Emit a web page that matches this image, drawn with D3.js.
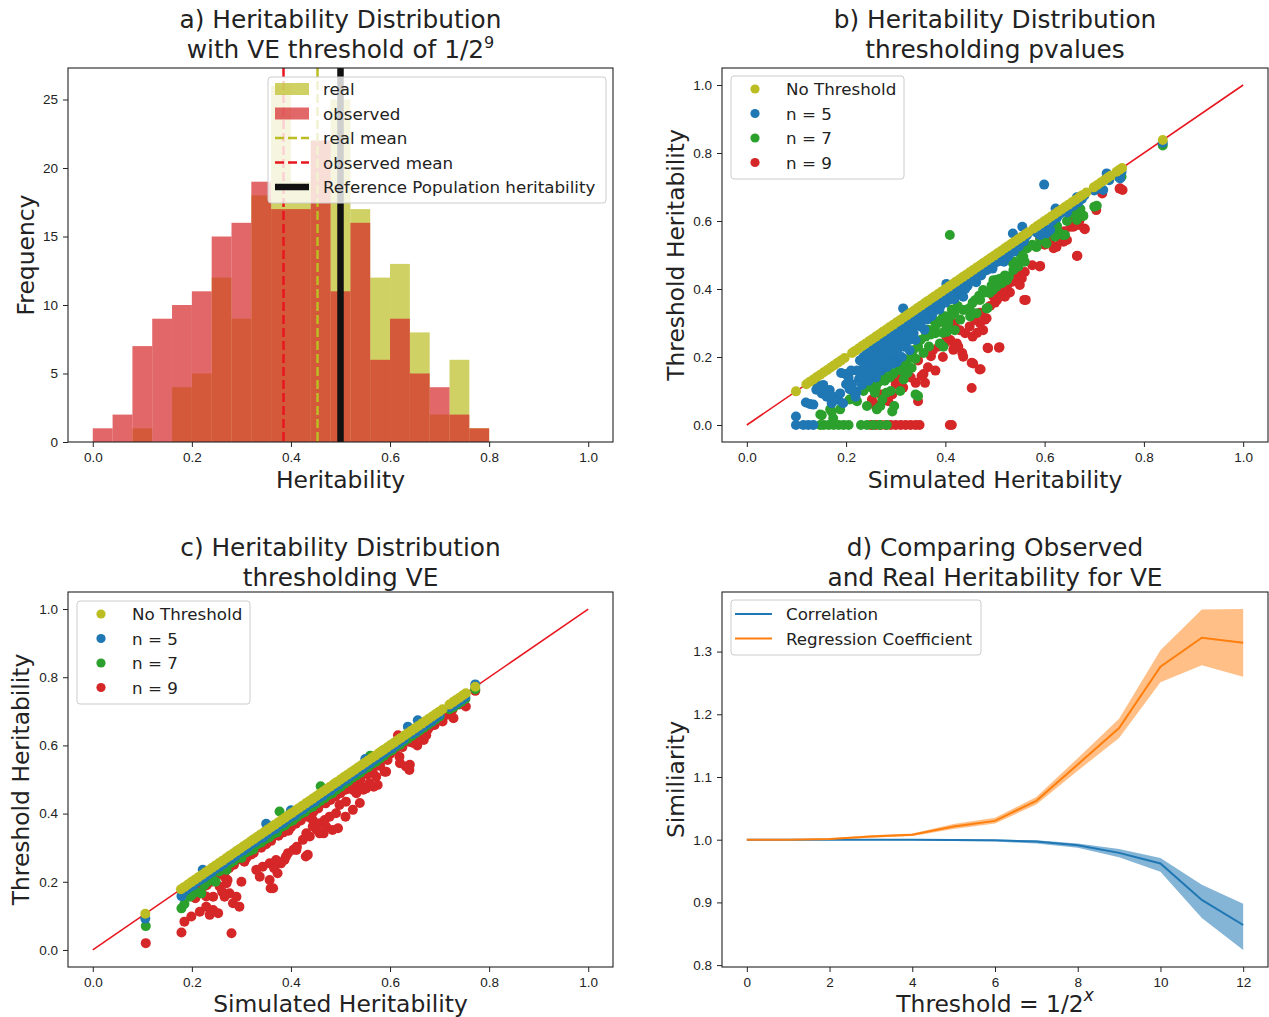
<!DOCTYPE html>
<html>
<head>
<meta charset="utf-8">
<script src="https://cdn.jsdelivr.net/npm/d3@7"></script>
<style>
body { margin: 0; background: #fff; }
svg { font-family: "DejaVu Sans", sans-serif; }
.tick text { font-size: 13.5px; fill: #222; }
.tick line { stroke: #222; }
.title { font-size: 24.8px; fill: #222; text-anchor: middle; }
.label { font-size: 23.4px; fill: #222; text-anchor: middle; }
.legend text { font-size: 16.7px; fill: #222; }
</style>
</head>
<body>
<div id="chart"></div>
<script>
// ---- a) histogram ----
var binStarts = [0.00, 0.04, 0.08, 0.12, 0.16, 0.20, 0.24, 0.28, 0.32, 0.36,
                 0.40, 0.44, 0.48, 0.52, 0.56, 0.60, 0.64, 0.68, 0.72, 0.76];
var realCounts =     [0, 0, 1, 0, 4, 5, 12, 9, 18, 26, 19, 22, 25, 17, 12, 13, 8, 2, 6, 1];
var observedCounts = [1, 2, 7, 9, 10, 11, 15, 16, 19, 17, 17, 22, 11, 16, 6, 9, 5, 4, 2, 1];
var realMean = 0.4536;
var observedMean = 0.385;
var referenceH2 = 0.5;

// ---- b) thresholding pvalues: [simulated, threshold] ----
var pvalNoThreshold = [[0.099,0.099],[0.12,0.12],[0.127,0.127],[0.134,0.134],[0.141,0.141],[0.148,0.148],[0.155,0.155],
  [0.162,0.162],[0.169,0.169],[0.176,0.176],[0.183,0.183],[0.19,0.19],[0.197,0.197],[0.212,0.212],[0.218,0.218],
  [0.225,0.225],[0.232,0.232],[0.239,0.239],[0.246,0.246],[0.253,0.253],[0.26,0.26],[0.267,0.267],[0.274,0.274],
  [0.281,0.281],[0.288,0.288],[0.295,0.295],[0.302,0.302],[0.309,0.309],[0.316,0.316],[0.323,0.323],[0.33,0.33],
  [0.337,0.337],[0.344,0.344],[0.351,0.351],[0.358,0.358],[0.365,0.365],[0.372,0.372],[0.379,0.379],[0.386,0.386],
  [0.393,0.393],[0.4,0.4],[0.407,0.407],[0.414,0.414],[0.421,0.421],[0.428,0.428],[0.435,0.435],[0.442,0.442],
  [0.449,0.449],[0.456,0.456],[0.463,0.463],[0.47,0.47],[0.477,0.477],[0.484,0.484],[0.491,0.491],[0.498,0.498],
  [0.505,0.505],[0.512,0.512],[0.519,0.519],[0.526,0.526],[0.533,0.533],[0.54,0.54],[0.547,0.547],[0.554,0.554],
  [0.561,0.561],[0.567,0.567],[0.578,0.578],[0.585,0.585],[0.592,0.592],[0.599,0.599],[0.606,0.606],[0.613,0.613],
  [0.62,0.62],[0.627,0.627],[0.634,0.634],[0.641,0.641],[0.648,0.648],[0.655,0.655],[0.662,0.662],[0.669,0.669],
  [0.676,0.676],[0.684,0.684],[0.699,0.699],[0.706,0.706],[0.713,0.713],[0.72,0.72],[0.727,0.727],[0.733,0.733],
  [0.745,0.745],[0.751,0.751],[0.756,0.756],[0.838,0.838]];
var pvalN5 = [[0.099,0.0],[0.099,0.025],[0.114,0.0],[0.124,0.0],[0.134,0.0],[0.127,0.062],[0.134,0.06],[0.119,0.066],
  [0.143,0.118],[0.148,0.108],[0.154,0.118],[0.151,0.093],[0.161,0.083],[0.167,0.103],[0.171,0.064],[0.174,0.083],
  [0.184,0.074],[0.188,0.093],[0.194,0.064],[0.19,0.153],[0.198,0.15],[0.14,0.104],
  [0.205,0.14],[0.212,0.12],[0.215,0.1],[0.221,0.098],[0.219,0.083],[0.226,0.135],[0.23,0.16],[0.232,0.118],
  [0.238,0.15],[0.24,0.185],[0.245,0.13],[0.248,0.17],[0.25,0.205],[0.255,0.19],[0.258,0.16],[0.26,0.14],
  [0.262,0.215],[0.265,0.18],[0.268,0.2],[0.27,0.16],[0.272,0.235],[0.275,0.19],[0.278,0.21],[0.28,0.25],
  [0.282,0.17],[0.285,0.22],[0.288,0.195],[0.29,0.26],[0.292,0.235],[0.295,0.21],[0.298,0.27],[0.3,0.245],
  [0.302,0.185],[0.305,0.225],[0.308,0.28],[0.31,0.26],[0.312,0.2],[0.315,0.343],[0.318,0.29],[0.32,0.24],
  [0.322,0.3],[0.325,0.27],[0.328,0.22],[0.33,0.31],[0.335,0.29],[0.338,0.32],[0.34,0.25],[0.345,0.33],
  [0.348,0.3],[0.35,0.34],[0.355,0.31],[0.358,0.28],[0.36,0.345],[0.365,0.33],[0.37,0.35],[0.372,0.32],
  [0.378,0.36],[0.38,0.34],[0.385,0.37],[0.39,0.35],[0.395,0.38],[0.4,0.36],[0.402,0.415],[0.408,0.385],
  [0.41,0.37],[0.415,0.395],[0.42,0.38],[0.425,0.41],[0.428,0.4],[0.432,0.42],[0.436,0.377],[0.44,0.43],
  [0.445,0.41],[0.45,0.44],[0.455,0.43],[0.46,0.45],[0.462,0.42],[0.468,0.455],[0.472,0.44],[0.478,0.465],
  [0.483,0.455],[0.49,0.475],[0.495,0.46],[0.5,0.49],[0.505,0.48],[0.51,0.5],[0.515,0.49],[0.52,0.505],
  [0.525,0.495],[0.53,0.52],[0.536,0.563],[0.54,0.52],[0.545,0.535],[0.55,0.54],[0.555,0.583],[0.56,0.55],
  [0.565,0.56],[0.58,0.57],[0.585,0.565],[0.591,0.559],[0.598,0.585],[0.599,0.707],[0.604,0.564],[0.611,0.574],
  [0.615,0.6],[0.622,0.637],[0.625,0.61],[0.63,0.62],[0.638,0.63],[0.645,0.625],[0.65,0.64],[0.658,0.645],
  [0.665,0.67],[0.668,0.655],[0.675,0.665],[0.68,0.675],[0.7,0.69],[0.705,0.695],[0.712,0.696],[0.718,0.691],
  [0.725,0.74],[0.73,0.72],[0.75,0.74],[0.752,0.725],[0.755,0.745],[0.838,0.83],
  [0.222,0.16],[0.228,0.19],[0.235,0.2],[0.236,0.17],[0.242,0.21],[0.25,0.15],[0.252,0.225],[0.257,0.2],
  [0.263,0.23],[0.266,0.165],[0.27,0.24],[0.274,0.215],[0.278,0.18],[0.283,0.24],[0.287,0.25],[0.29,0.21],
  [0.294,0.18],[0.297,0.25],[0.303,0.26],[0.306,0.24],[0.313,0.27],[0.317,0.23],[0.322,0.28],[0.327,0.25],
  [0.332,0.3],[0.336,0.27],[0.342,0.31],[0.35,0.29],[0.357,0.33],[0.362,0.31],[0.368,0.34],[0.375,0.33],
  [0.382,0.355],[0.388,0.34],[0.398,0.37],[0.41,0.39],[0.418,0.37],[0.43,0.405],[0.44,0.4],[0.452,0.425],
  [0.465,0.44],[0.475,0.45],[0.488,0.46],[0.498,0.475],[0.508,0.49],[0.518,0.48],[0.528,0.5],[0.538,0.51],
  [0.548,0.525],[0.558,0.54],[0.21,0.16],[0.2,0.12],[0.207,0.105],[0.23,0.145],[0.245,0.16]];
var pvalN7 = [[0.148,0.0],[0.155,0.0],[0.165,0.0],[0.175,0.0],[0.185,0.0],[0.195,0.0],[0.205,0.0],[0.23,0.0],
  [0.242,0.0],[0.255,0.0],[0.268,0.0],[0.282,0.0],[0.151,0.029],[0.148,0.031],[0.171,0.039],[0.168,0.046],
  [0.174,0.02],[0.188,0.046],[0.207,0.075],[0.222,0.07],[0.242,0.056],[0.212,0.078],[0.252,0.109],[0.258,0.095],
  [0.262,0.046],[0.269,0.056],[0.273,0.075],[0.262,0.134],[0.273,0.153],[0.281,0.095],[0.285,0.168],[0.29,0.1],
  [0.297,0.056],[0.293,0.04],[0.301,0.192],[0.309,0.1],[0.316,0.134],[0.324,0.153],[0.332,0.168],[0.34,0.09],
  [0.345,0.085],[0.324,0.192],[0.34,0.195],[0.356,0.212],[0.367,0.231],[0.371,0.266],[0.375,0.31],[0.38,0.29],
  [0.389,0.24],[0.396,0.23],[0.395,0.271],[0.396,0.319],[0.402,0.29],[0.403,0.274],[0.406,0.299],[0.409,0.559],
  [0.41,0.319],[0.418,0.329],[0.419,0.279],[0.436,0.338],[0.442,0.339],[0.449,0.344],[0.45,0.319],[0.461,0.368],
  [0.463,0.329],[0.47,0.368],[0.476,0.397],[0.483,0.343],[0.485,0.344],[0.489,0.388],[0.49,0.392],[0.496,0.397],
  [0.497,0.426],[0.503,0.407],[0.504,0.427],[0.514,0.417],[0.524,0.426],[0.528,0.437],[0.536,0.476],[0.537,0.456],
  [0.547,0.466],[0.55,0.505],[0.555,0.49],[0.557,0.495],[0.56,0.48],[0.583,0.524],[0.584,0.524],[0.591,0.544],
  [0.604,0.534],[0.618,0.578],[0.621,0.554],[0.631,0.564],[0.637,0.559],[0.641,0.559],[0.655,0.623],[0.665,0.603],
  [0.668,0.627],[0.677,0.617],[0.678,0.615],[0.7,0.642],[0.705,0.645],[0.705,0.7],[0.75,0.728],[0.752,0.735],
  [0.755,0.73],[0.838,0.822],
  [0.26,0.11],[0.265,0.125],[0.278,0.13],[0.288,0.14],[0.295,0.15],[0.305,0.17],[0.312,0.16],[0.318,0.18],
  [0.33,0.2],[0.335,0.22],[0.345,0.23],[0.35,0.25],[0.36,0.26],[0.365,0.28],[0.38,0.27],[0.385,0.3],
  [0.392,0.31],[0.4,0.32],[0.413,0.34],[0.425,0.35],[0.43,0.31],[0.455,0.36],[0.468,0.38],[0.48,0.39],
  [0.493,0.41],[0.51,0.43],[0.52,0.44],[0.54,0.48],[0.565,0.52],[0.575,0.53],[0.6,0.55],[0.61,0.57],
  [0.625,0.585],[0.645,0.6],[0.66,0.62],[0.672,0.635],[0.218,0.09],[0.235,0.1],[0.245,0.12]];
var pvalN9 = [[0.25,0.0],[0.26,0.0],[0.27,0.0],[0.28,0.0],[0.29,0.0],[0.3,0.0],[0.31,0.0],[0.32,0.0],[0.33,0.0],
  [0.34,0.0],[0.348,0.0],[0.409,0.0],[0.413,0.0],[0.252,0.075],[0.258,0.06],[0.293,0.09],[0.301,0.144],
  [0.309,0.192],[0.315,0.11],[0.34,0.124],[0.352,0.144],[0.356,0.15],[0.345,0.07],[0.359,0.124],[0.371,0.202],
  [0.387,0.231],[0.399,0.241],[0.399,0.309],[0.402,0.261],[0.403,0.25],[0.416,0.221],[0.418,0.231],[0.419,0.299],
  [0.423,0.24],[0.426,0.231],[0.429,0.279],[0.434,0.212],[0.436,0.201],[0.453,0.183],[0.456,0.181],[0.469,0.163],
  [0.471,0.164],[0.453,0.109],[0.449,0.29],[0.46,0.309],[0.464,0.271],[0.47,0.299],[0.473,0.329],[0.476,0.279],
  [0.48,0.31],[0.483,0.314],[0.485,0.227],[0.486,0.226],[0.497,0.377],[0.503,0.368],[0.504,0.368],[0.508,0.227],
  [0.509,0.229],[0.51,0.382],[0.512,0.388],[0.517,0.392],[0.52,0.377],[0.524,0.407],[0.534,0.421],[0.543,0.427],
  [0.544,0.436],[0.55,0.412],[0.551,0.446],[0.554,0.431],[0.559,0.368],[0.562,0.368],[0.59,0.466],[0.591,0.468],
  [0.591,0.549],[0.606,0.544],[0.611,0.539],[0.618,0.52],[0.624,0.524],[0.638,0.539],[0.645,0.544],[0.651,0.598],
  [0.653,0.583],[0.658,0.583],[0.665,0.497],[0.666,0.498],[0.668,0.588],[0.68,0.578],[0.681,0.576],[0.704,0.632],
  [0.716,0.681],[0.751,0.695],[0.752,0.696],[0.757,0.691],
  [0.32,0.17],[0.33,0.14],[0.345,0.19],[0.365,0.17],[0.375,0.22],[0.38,0.16],[0.395,0.2],[0.41,0.25],
  [0.44,0.27],[0.455,0.26],[0.47,0.33],[0.49,0.35],[0.5,0.36],[0.53,0.39],[0.56,0.45],[0.575,0.47],
  [0.6,0.53],[0.63,0.55],[0.64,0.57],[0.67,0.6],[0.3,0.12],[0.285,0.07],[0.27,0.09]];

// ---- c) thresholding VE: [simulated, threshold] ----
var veNoThreshold = [[0.106,0.106],[0.178,0.178],[0.185,0.185],[0.192,0.192],[0.199,0.199],[0.206,0.206],
  [0.213,0.213],[0.22,0.22],[0.227,0.227],[0.234,0.234],[0.241,0.241],[0.248,0.248],[0.255,0.255],[0.262,0.262],
  [0.269,0.269],[0.276,0.276],[0.283,0.283],[0.29,0.29],[0.297,0.297],[0.304,0.304],[0.311,0.311],[0.318,0.318],
  [0.325,0.325],[0.332,0.332],[0.339,0.339],[0.346,0.346],[0.353,0.353],[0.36,0.36],[0.367,0.367],[0.374,0.374],
  [0.381,0.381],[0.388,0.388],[0.395,0.395],[0.402,0.402],[0.409,0.409],[0.416,0.416],[0.423,0.423],[0.43,0.43],
  [0.437,0.437],[0.444,0.444],[0.451,0.451],[0.458,0.458],[0.465,0.465],[0.472,0.472],[0.479,0.479],[0.486,0.486],
  [0.493,0.493],[0.5,0.5],[0.507,0.507],[0.514,0.514],[0.521,0.521],[0.528,0.528],[0.535,0.535],[0.542,0.542],
  [0.549,0.549],[0.556,0.556],[0.563,0.563],[0.57,0.57],[0.577,0.577],[0.582,0.582],[0.587,0.587],[0.594,0.594],
  [0.601,0.601],[0.608,0.608],[0.615,0.615],[0.622,0.622],[0.629,0.629],[0.636,0.636],[0.643,0.643],[0.65,0.65],
  [0.657,0.657],[0.664,0.664],[0.671,0.671],[0.678,0.678],[0.685,0.685],[0.692,0.692],[0.699,0.699],[0.706,0.706],
  [0.72,0.72],[0.727,0.727],[0.733,0.733],[0.74,0.74],[0.747,0.747],[0.753,0.753],[0.772,0.772]];
var veN5 = [[0.106,0.092],[0.179,0.158],[0.185,0.172],[0.19,0.178],[0.196,0.185],[0.203,0.19],[0.21,0.2],
  [0.222,0.235],[0.216,0.205],[0.224,0.212],[0.232,0.22],[0.24,0.228],[0.248,0.238],[0.256,0.244],[0.264,0.252],
  [0.272,0.262],[0.28,0.268],[0.288,0.276],[0.296,0.286],[0.304,0.292],[0.312,0.3],[0.32,0.31],[0.328,0.316],
  [0.336,0.326],[0.344,0.33],[0.352,0.34],[0.36,0.35],[0.368,0.355],[0.376,0.366],[0.384,0.372],[0.392,0.382],
  [0.4,0.39],[0.408,0.395],[0.416,0.406],[0.424,0.412],[0.432,0.422],[0.44,0.43],[0.448,0.435],[0.456,0.446],
  [0.464,0.452],[0.472,0.462],[0.48,0.468],[0.488,0.478],[0.496,0.484],[0.504,0.494],[0.512,0.5],[0.52,0.51],
  [0.528,0.518],[0.536,0.526],[0.544,0.532],[0.552,0.542],[0.56,0.548],[0.568,0.558],[0.576,0.565],[0.58,0.57],
  [0.588,0.578],[0.596,0.586],[0.604,0.592],[0.612,0.602],[0.62,0.61],[0.628,0.618],[0.636,0.655],[0.644,0.634],
  [0.652,0.64],[0.656,0.674],[0.66,0.65],[0.668,0.658],[0.676,0.666],[0.684,0.672],[0.692,0.682],[0.7,0.69],
  [0.72,0.712],[0.728,0.718],[0.736,0.726],[0.744,0.734],[0.752,0.742],[0.772,0.779],[0.35,0.37],[0.4,0.41],
  [0.55,0.56]];
var veN7 = [[0.107,0.07],[0.179,0.122],[0.185,0.135],[0.196,0.156],[0.2,0.161],[0.21,0.17],[0.219,0.166],
  [0.225,0.19],[0.232,0.2],[0.24,0.215],[0.248,0.2],[0.255,0.23],[0.262,0.24],[0.27,0.235],[0.278,0.255],
  [0.285,0.262],[0.292,0.27],[0.3,0.27],[0.308,0.285],[0.316,0.29],[0.324,0.295],[0.332,0.31],[0.34,0.315],
  [0.348,0.325],[0.356,0.33],[0.364,0.34],[0.372,0.345],[0.377,0.406],[0.38,0.36],[0.388,0.365],[0.396,0.375],
  [0.404,0.38],[0.412,0.39],[0.42,0.4],[0.428,0.405],[0.436,0.415],[0.444,0.42],[0.452,0.43],[0.46,0.438],
  [0.468,0.445],[0.476,0.455],[0.484,0.46],[0.492,0.47],[0.5,0.478],[0.508,0.488],[0.516,0.495],[0.524,0.505],
  [0.532,0.512],[0.54,0.52],[0.548,0.53],[0.556,0.536],[0.564,0.546],[0.572,0.552],[0.58,0.562],[0.588,0.57],
  [0.596,0.58],[0.604,0.586],[0.612,0.596],[0.62,0.602],[0.628,0.612],[0.636,0.62],[0.644,0.628],[0.652,0.636],
  [0.66,0.644],[0.668,0.652],[0.676,0.66],[0.684,0.668],[0.692,0.676],[0.7,0.685],[0.72,0.706],[0.728,0.712],
  [0.736,0.72],[0.744,0.728],[0.752,0.736],[0.772,0.765],[0.46,0.48],[0.56,0.57]];
var veN9 = [[0.107,0.02],[0.179,0.051],[0.28,0.049],[0.185,0.083],[0.199,0.098],[0.216,0.112],[0.229,0.127],
  [0.243,0.117],[0.253,0.108],[0.236,0.103],[0.207,0.152],[0.229,0.157],[0.243,0.156],[0.256,0.186],[0.27,0.196],
  [0.276,0.166],[0.29,0.156],[0.296,0.127],[0.283,0.137],[0.266,0.156],[0.261,0.171],[0.272,0.205],[0.266,0.215],
  [0.3,0.2],[0.306,0.259],[0.33,0.235],[0.337,0.215],[0.343,0.244],[0.357,0.205],[0.364,0.181],[0.359,0.181],
  [0.357,0.254],[0.37,0.264],[0.366,0.24],[0.373,0.225],[0.38,0.254],[0.387,0.264],[0.39,0.274],[0.394,0.284],
  [0.405,0.294],[0.411,0.293],[0.412,0.303],[0.424,0.323],[0.43,0.274],[0.431,0.342],[0.434,0.279],[0.438,0.333],
  [0.444,0.362],[0.444,0.381],[0.452,0.352],[0.458,0.372],[0.458,0.342],[0.464,0.372],[0.466,0.342],[0.468,0.381],
  [0.471,0.362],[0.478,0.391],[0.484,0.352],[0.491,0.401],[0.495,0.357],[0.498,0.425],[0.51,0.391],[0.511,0.435],
  [0.525,0.411],[0.525,0.469],[0.532,0.46],[0.539,0.431],[0.542,0.479],[0.546,0.47],[0.552,0.474],[0.558,0.489],
  [0.567,0.479],[0.572,0.508],[0.575,0.484],[0.589,0.523],[0.592,0.523],[0.595,0.557],[0.616,0.63],[0.619,0.567],
  [0.62,0.548],[0.632,0.538],[0.639,0.528],[0.64,0.543],[0.647,0.607],[0.655,0.6],[0.666,0.621],[0.668,0.616],
  [0.673,0.63],[0.676,0.646],[0.706,0.67],[0.728,0.68],[0.726,0.705],[0.753,0.714],[0.772,0.76],
  [0.2,0.17],[0.24,0.2],[0.32,0.28],[0.4,0.36],[0.52,0.49],[0.6,0.575],[0.65,0.625],[0.69,0.66],[0.74,0.72],
  [0.3,0.265],[0.31,0.27],[0.325,0.285],[0.34,0.3],[0.35,0.31],[0.36,0.32],[0.375,0.335],[0.385,0.345],
  [0.395,0.35],[0.41,0.37],[0.42,0.38],[0.435,0.39],[0.445,0.405],[0.455,0.415],[0.47,0.43],[0.48,0.44],
  [0.49,0.45],[0.5,0.46],[0.51,0.47],[0.53,0.49],[0.54,0.5],[0.555,0.515],[0.565,0.525],[0.58,0.54],
  [0.61,0.585],[0.625,0.595],[0.64,0.61],[0.66,0.635],[0.68,0.655],[0.7,0.675],[0.715,0.69],[0.25,0.22],
  [0.26,0.23],[0.275,0.24],[0.285,0.25],[0.22,0.18],[0.23,0.19]];

// ---- d) similarity vs threshold ----
var thresholds = [0, 1, 2, 3, 4, 5, 6, 7, 8, 9, 10, 11, 12];
var corrMean = [1.0, 1.0, 1.0, 1.0, 1.0, 0.9995, 0.999, 0.997, 0.991, 0.979, 0.962, 0.904, 0.864];
var corrLow  = [1.0, 1.0, 0.9995, 0.9995, 0.999, 0.998, 0.997, 0.994, 0.987, 0.972, 0.949, 0.875, 0.824];
var corrHigh = [1.0, 1.0, 1.0, 1.0, 1.0, 1.0, 1.0, 0.999, 0.994, 0.985, 0.971, 0.928, 0.898];
var regMean  = [1.0, 1.0, 1.001, 1.005, 1.008, 1.021, 1.030, 1.062, 1.120, 1.178, 1.276, 1.322, 1.314];
var regLow   = [1.0, 0.9995, 1.0, 1.003, 1.006, 1.017, 1.026, 1.056, 1.110, 1.162, 1.251, 1.278, 1.260];
var regHigh  = [1.0, 1.0005, 1.002, 1.007, 1.010, 1.025, 1.035, 1.068, 1.130, 1.193, 1.302, 1.367, 1.368];

var unitTicks = [0.0, 0.2, 0.4, 0.6, 0.8, 1.0];
var countTicks = [0, 5, 10, 15, 20, 25];
var simTicks = [0.8, 0.9, 1.0, 1.1, 1.2, 1.3];
var thresholdTicks = [0, 2, 4, 6, 8, 10, 12];

var colors = { none: "#bcbd22", n5: "#1f77b4", n7: "#2ca02c", n9: "#d62728" };

var svg = d3.select("#chart").append("svg")
  .attr("width", 1269)
  .attr("height", 1017);

// set up one axes box with scales, axes and frame
function makePanel(box, xDomain, yDomain, xTicks, yTicks, fmt) {
  var g = svg.append("g");
  var x = d3.scaleLinear().domain(xDomain).range([box.left, box.left + box.width]);
  var y = d3.scaleLinear().domain(yDomain).range([box.top + box.height, box.top]);

  g.append("g")
    .attr("transform", `translate(0, ${box.top + box.height})`)
    .call(d3.axisBottom(x).tickValues(xTicks).tickFormat(fmt.x).tickSize(5).tickPadding(5))
    .call(a => a.select(".domain").remove());
  g.append("g")
    .attr("transform", `translate(${box.left}, 0)`)
    .call(d3.axisLeft(y).tickValues(yTicks).tickFormat(fmt.y).tickSize(5).tickPadding(5))
    .call(a => a.select(".domain").remove());

  var plot = g.append("g");
  var clipId = "clip" + box.left + "_" + box.top;
  g.append("clipPath").attr("id", clipId)
    .append("rect")
    .attr("x", box.left).attr("y", box.top)
    .attr("width", box.width).attr("height", box.height);
  plot.attr("clip-path", `url(#${clipId})`);

  g.append("rect")
    .attr("x", box.left).attr("y", box.top)
    .attr("width", box.width).attr("height", box.height)
    .attr("fill", "none")
    .attr("stroke", "#222")
    .attr("stroke-width", 1.1);

  return { g: g, plot: plot, x: x, y: y, box: box };
}

function addTitle(box, top, line1, line2) {
  var cx = box.left + box.width / 2;
  svg.append("text").attr("class", "title").attr("x", cx).attr("y", top).text(line1);
  return svg.append("text").attr("class", "title").attr("x", cx).attr("y", top + 29.5).text(line2);
}

function addLabels(box, xText, yText, xBase, yBase) {
  var xl = svg.append("text").attr("class", "label")
    .attr("x", box.left + box.width / 2).attr("y", xBase).text(xText);
  svg.append("text").attr("class", "label")
    .attr("transform", `translate(${yBase}, ${box.top + box.height / 2}) rotate(-90)`)
    .text(yText);
  return xl;
}

function legendBox(x, y, w, h) {
  var lg = svg.append("g").attr("class", "legend");
  lg.append("rect")
    .attr("x", x).attr("y", y).attr("width", w).attr("height", h)
    .attr("rx", 3)
    .attr("fill", "#fff").attr("fill-opacity", 0.8)
    .attr("stroke", "#cccccc").attr("stroke-width", 1);
  return lg;
}

var f1 = d3.format(".1f");
var fInt = d3.format("d");

// ================= a) =================
var boxA = { left: 68, top: 68, width: 545, height: 374 };
var pA = makePanel(boxA, [-0.05, 1.05], [0, 27.3], unitTicks, countTicks, { x: f1, y: fInt });

pA.plot.selectAll(".real").data(binStarts).enter().append("rect")
  .attr("x", d => pA.x(d))
  .attr("width", d => pA.x(d + 0.04) - pA.x(d))
  .attr("y", (d, i) => pA.y(realCounts[i]))
  .attr("height", (d, i) => pA.y(0) - pA.y(realCounts[i]))
  .attr("fill", colors.none).attr("fill-opacity", 0.7);

pA.plot.selectAll(".obs").data(binStarts).enter().append("rect")
  .attr("x", d => pA.x(d))
  .attr("width", d => pA.x(d + 0.04) - pA.x(d))
  .attr("y", (d, i) => pA.y(observedCounts[i]))
  .attr("height", (d, i) => pA.y(0) - pA.y(observedCounts[i]))
  .attr("fill", colors.n9).attr("fill-opacity", 0.7);

function vline(p, v, color, width, dash) {
  p.plot.append("line")
    .attr("x1", p.x(v)).attr("x2", p.x(v))
    .attr("y1", p.box.top).attr("y2", p.box.top + p.box.height)
    .attr("stroke", color).attr("stroke-width", width)
    .attr("stroke-dasharray", dash);
}
vline(pA, observedMean, "#e8171f", 2.5, "9,4");
vline(pA, realMean, colors.none, 2.5, "9,4");
vline(pA, referenceH2, "#111", 6.5, null);

addTitle(boxA, 28, "a) Heritability Distribution", "with VE threshold of 1/2")
  .append("tspan").attr("dy", -10).attr("font-size", 16).text("9");
addLabels(boxA, "Heritability", "Frequency", 488, 34);

var lgA = legendBox(268, 77, 338, 126);
var rowsA = [
  { label: "real", kind: "patch", color: colors.none },
  { label: "observed", kind: "patch", color: colors.n9 },
  { label: "real mean", kind: "dash", color: colors.none },
  { label: "observed mean", kind: "dash", color: "#e8171f" },
  { label: "Reference Population heritability", kind: "solid", color: "#111" }
];
rowsA.forEach(function(r, i) {
  var cy = 89 + i * 24.5;
  if (r.kind === "patch") {
    lgA.append("rect").attr("x", 275).attr("y", cy - 6).attr("width", 34).attr("height", 12)
      .attr("fill", r.color).attr("fill-opacity", 0.7);
  } else {
    lgA.append("line").attr("x1", 275).attr("x2", 309).attr("y1", cy).attr("y2", cy)
      .attr("stroke", r.color)
      .attr("stroke-width", r.kind === "solid" ? 6.5 : 2.5)
      .attr("stroke-dasharray", r.kind === "dash" ? "9,4" : null);
  }
  lgA.append("text").attr("x", 323).attr("y", cy + 6).text(r.label);
});

// ================= b) and c) scatter panels =================
function scatterPanel(box, series, titleTop, title2, xBase, yBase, legendPos) {
  var p = makePanel(box, [-0.05, 1.05], [-0.05, 1.05], unitTicks, unitTicks, { x: f1, y: f1 });

  p.plot.append("line")
    .attr("x1", p.x(0)).attr("y1", p.y(0))
    .attr("x2", p.x(1)).attr("y2", p.y(1))
    .attr("stroke", "#e8171f").attr("stroke-width", 1.6);

  // drawn bottom to top: n = 9, n = 7, n = 5, no threshold
  [series[3], series[2], series[1], series[0]].forEach(function(s) {
    p.plot.append("g").selectAll("circle").data(s.data).enter().append("circle")
      .attr("cx", d => p.x(d[0]))
      .attr("cy", d => p.y(d[1]))
      .attr("r", 5)
      .attr("fill", s.color);
  });

  addTitle(box, titleTop, title2[0], title2[1]);
  addLabels(box, "Simulated Heritability", "Threshold Heritability", xBase, yBase);

  var lg = legendBox(legendPos.x, legendPos.y, 173, 103);
  series.forEach(function(s, i) {
    var cy = legendPos.y + 13 + i * 24.5;
    lg.append("circle").attr("cx", legendPos.x + 24).attr("cy", cy).attr("r", 4.6).attr("fill", s.color);
    lg.append("text").attr("x", legendPos.x + 55).attr("y", cy + 6).text(s.label);
  });
  return p;
}

var boxB = { left: 722, top: 68, width: 546, height: 374 };
scatterPanel(boxB, [
  { label: "No Threshold", color: colors.none, data: pvalNoThreshold },
  { label: "n = 5", color: colors.n5, data: pvalN5 },
  { label: "n = 7", color: colors.n7, data: pvalN7 },
  { label: "n = 9", color: colors.n9, data: pvalN9 }
], 28, ["b) Heritability Distribution", "thresholding pvalues"], 488, 684, { x: 731, y: 76 });

var boxC = { left: 68, top: 592, width: 545, height: 375 };
scatterPanel(boxC, [
  { label: "No Threshold", color: colors.none, data: veNoThreshold },
  { label: "n = 5", color: colors.n5, data: veN5 },
  { label: "n = 7", color: colors.n7, data: veN7 },
  { label: "n = 9", color: colors.n9, data: veN9 }
], 556, ["c) Heritability Distribution", "thresholding VE"], 1012, 29, { x: 77, y: 601 });

// ================= d) =================
var boxD = { left: 722, top: 592, width: 546, height: 375 };
var pD = makePanel(boxD, [-0.6, 12.6], [0.797, 1.395], thresholdTicks, simTicks, { x: fInt, y: f1 });

var lineSeries = [
  { label: "Correlation", color: "#1f77b4", mean: corrMean, low: corrLow, high: corrHigh, alpha: 0.55 },
  { label: "Regression Coefficient", color: "#ff7f0e", mean: regMean, low: regLow, high: regHigh, alpha: 0.5 }
];

lineSeries.forEach(function(s) {
  var area = d3.area()
    .x(d => pD.x(d))
    .y0((d, i) => pD.y(s.low[i]))
    .y1((d, i) => pD.y(s.high[i]));
  pD.plot.append("path").datum(thresholds)
    .attr("d", area)
    .attr("fill", s.color).attr("fill-opacity", s.alpha);
});
lineSeries.forEach(function(s) {
  var line = d3.line()
    .x(d => pD.x(d))
    .y((d, i) => pD.y(s.mean[i]));
  pD.plot.append("path").datum(thresholds)
    .attr("d", line)
    .attr("fill", "none")
    .attr("stroke", s.color).attr("stroke-width", 2);
});

addTitle(boxD, 556, "d) Comparing Observed", "and Real Heritability for VE");
var xlD = addLabels(boxD, "Threshold = 1/2", "Similiarity", 1012, 684);
xlD.append("tspan").attr("dy", -11).attr("font-size", 17).attr("font-style", "italic").text("x");

var lgD = legendBox(731, 600, 250, 55);
lineSeries.forEach(function(s, i) {
  var cy = 614 + i * 24.5;
  lgD.append("line").attr("x1", 735).attr("x2", 772).attr("y1", cy).attr("y2", cy)
    .attr("stroke", s.color).attr("stroke-width", 2);
  lgD.append("text").attr("x", 786).attr("y", cy + 6).text(s.label);
});
</script>
</body>
</html>
